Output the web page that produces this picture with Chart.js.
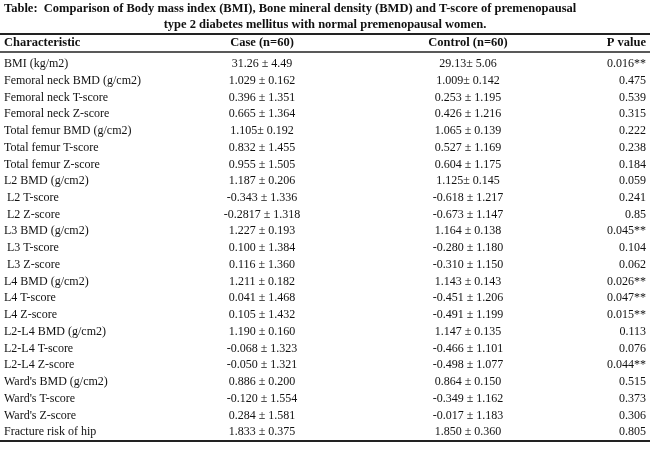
<!DOCTYPE html>
<html>
<head>
<meta charset="utf-8">
<script src="https://cdn.jsdelivr.net/npm/chart.js@4"></script>
<style>
  html, body { margin: 0; padding: 0; background: #fff; }
  #wrap { width: 650px; height: 452px; }
</style>
</head>
<body>
<div id="wrap"><canvas id="tableChart"></canvas></div>
<script>
// ========== table data ==========
const titleLines = [
    'Table:  Comparison of Body mass index (BMI), Bone mineral density (BMD) and T-score of premenopausal',
    'type 2 diabetes mellitus with normal premenopausal women.'
];
const headers = ['Characteristic', 'Case (n=60)', 'Control (n=60)', 'P value'];
const characteristics = [
    'BMI (kg/m2)', 'Femoral neck BMD (g/cm2)', 'Femoral neck T-score', 'Femoral neck Z-score',
    'Total femur BMD (g/cm2)', 'Total femur T-score', 'Total femur Z-score', 'L2 BMD (g/cm2)',
    ' L2 T-score', ' L2 Z-score', 'L3 BMD (g/cm2)', ' L3 T-score', ' L3 Z-score', 'L4 BMD (g/cm2)',
    'L4 T-score', 'L4 Z-score', 'L2-L4 BMD (g/cm2)', 'L2-L4 T-score', 'L2-L4 Z-score',
    "Ward's BMD (g/cm2)", "Ward's T-score", "Ward's Z-score", 'Fracture risk of hip'
];
const caseValues = [
    '31.26 ± 4.49', '1.029 ± 0.162', '0.396 ± 1.351', '0.665 ± 1.364', '1.105± 0.192',
    '0.832 ± 1.455', '0.955 ± 1.505', '1.187 ± 0.206', '-0.343 ± 1.336', '-0.2817 ± 1.318',
    '1.227 ± 0.193', '0.100 ± 1.384', '0.116 ± 1.360', '1.211 ± 0.182', '0.041 ± 1.468',
    '0.105 ± 1.432', '1.190 ± 0.160', '-0.068 ± 1.323', '-0.050 ± 1.321', '0.886 ± 0.200',
    '-0.120 ± 1.554', '0.284 ± 1.581', '1.833 ± 0.375'
];
const controlValues = [
    '29.13± 5.06', '1.009± 0.142', '0.253 ± 1.195', '0.426 ± 1.216', '1.065 ± 0.139',
    '0.527 ± 1.169', '0.604 ± 1.175', '1.125± 0.145', '-0.618 ± 1.217', '-0.673 ± 1.147',
    '1.164 ± 0.138', '-0.280 ± 1.180', '-0.310 ± 1.150', '1.143 ± 0.143', '-0.451 ± 1.206',
    '-0.491 ± 1.199', '1.147 ± 0.135', '-0.466 ± 1.101', '-0.498 ± 1.077', '0.864 ± 0.150',
    '-0.349 ± 1.162', '-0.017 ± 1.183', '1.850 ± 0.360'
];
const pValues = [
    '0.016**', '0.475', '0.539', '0.315', '0.222', '0.238', '0.184', '0.059', '0.241', '0.85',
    '0.045**', '0.104', '0.062', '0.026**', '0.047**', '0.015**', '0.113', '0.076', '0.044**',
    '0.515', '0.373', '0.306', '0.805'
];

const SERIF = '"Liberation Serif", "DejaVu Serif", serif';

// draws the table through the chart's own x / y scales
const tablePlugin = {
    id: 'tablePlugin',
    afterDraw(chart) {
        const ctx = chart.ctx;
        const x = chart.scales.x;
        const y = chart.scales.y;
        const rowY = i => y.getPixelForValue(i);
        ctx.save();
        ctx.fillStyle = '#111';
        ctx.textBaseline = 'middle';

        // title
        ctx.font = 'bold 12.5px ' + SERIF;
        ctx.textAlign = 'left';
        ctx.fillText(titleLines[0], x.getPixelForValue(4), rowY(-3.29));
        ctx.textAlign = 'center';
        ctx.fillText(titleLines[1], x.getPixelForValue(325), rowY(-2.33));

        // rules
        ctx.strokeStyle = '#222';
        [[-1.8, 2], [-0.72, 1.5], [characteristics.length - 0.47, 2]].forEach(([v, w]) => {
            ctx.lineWidth = w;
            ctx.beginPath();
            ctx.moveTo(x.getPixelForValue(0), rowY(v));
            ctx.lineTo(x.getPixelForValue(650), rowY(v));
            ctx.stroke();
        });

        // header
        ctx.font = 'bold 12.5px ' + SERIF;
        ctx.textAlign = 'left';
        ctx.fillText(headers[0], x.getPixelForValue(4), rowY(-1.25));
        ctx.textAlign = 'center';
        ctx.fillText(headers[1], x.getPixelForValue(262), rowY(-1.25));
        ctx.fillText(headers[2], x.getPixelForValue(468), rowY(-1.25));
        ctx.textAlign = 'right';
        ctx.fillText(headers[3], x.getPixelForValue(646), rowY(-1.25));

        // body
        ctx.font = '12px ' + SERIF;
        characteristics.forEach((c, i) => {
            ctx.textAlign = 'left';
            ctx.fillText(c, x.getPixelForValue(4), rowY(i));
            ctx.textAlign = 'center';
            ctx.fillText(caseValues[i], x.getPixelForValue(262), rowY(i));
            ctx.fillText(controlValues[i], x.getPixelForValue(468), rowY(i));
            ctx.textAlign = 'right';
            ctx.fillText(pValues[i], x.getPixelForValue(646), rowY(i));
        });
        ctx.restore();
    }
};

new Chart(document.getElementById('tableChart'), {
    type: 'scatter',
    data: { datasets: [{ data: [], pointRadius: 0 }] },
    options: {
        responsive: true,
        maintainAspectRatio: false,
        animation: false,
        layout: { padding: 0 },
        plugins: { legend: { display: false }, tooltip: { enabled: false } },
        scales: {
            x: { type: 'linear', min: 0, max: 650, display: false },
            // row index axis: row 0 at ~64px, ~16.7px per row
            y: { type: 'linear', min: -3.825, max: 23.19, reverse: true, display: false }
        }
    },
    plugins: [tablePlugin]
});
</script>
</body>
</html>
